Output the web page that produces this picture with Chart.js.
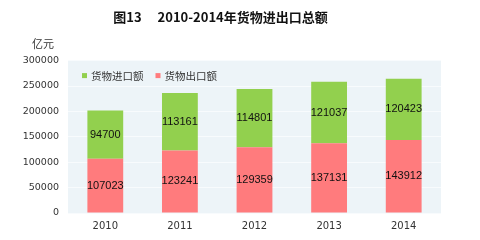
<!DOCTYPE html>
<html><head><meta charset="utf-8">
<script src="https://cdn.jsdelivr.net/npm/chart.js@4/dist/chart.umd.min.js"></script>
<style>html,body{margin:0;padding:0;background:#fff}#wrap{width:480px;height:240px}</style>
</head><body><div id="wrap"><canvas id="c" width="480" height="240"></canvas></div>
<script>
const categories = ['2010','2011','2012','2013','2014'];
const exportValues = [107023,123241,129359,137131,143912];
const importValues = [94700,113161,114801,121037,120423];
const yTicks = [0,50000,100000,150000,200000,250000,300000];
const titleText = '图13\u3000 2010-2014年货物进出口总额';
const unitText = '亿元';

const bgPlugin = {
  id:'bg',
  beforeDraw(chart){
    const {ctx, chartArea:a} = chart;
    ctx.save(); ctx.fillStyle='#edf4f8';
    ctx.fillRect(a.left, a.top, a.right-a.left, a.bottom-a.top);
    ctx.restore();
  },
  afterDraw(chart){
    const {ctx, chartArea:a} = chart;
    ctx.save();
    ctx.fillStyle='#333'; ctx.font='11px "Noto Sans CJK SC"';
    ctx.textAlign='center'; ctx.textBaseline='middle';
    ctx.fillText(unitText, a.left-25, a.top-17);
    ctx.font='11px "Liberation Sans", Arial'; ctx.fillStyle='#111';
    chart.data.datasets.forEach((ds,di)=>{
      chart.getDatasetMeta(di).data.forEach((bar,i)=>{
        const y=(bar.y+bar.base)/2;
        ctx.fillText(String(ds.data[i]), bar.x, y);
      });
    });
    const order=[1,0]; let x=a.left+14; const ly=a.top+15;
    ctx.font='10.5px "Noto Sans CJK SC"'; ctx.textAlign='left';
    order.forEach(di=>{
      const ds=chart.data.datasets[di];
      ctx.fillStyle=ds.backgroundColor; ctx.fillRect(x, ly-2.5, 5, 5);
      ctx.fillStyle='#333'; ctx.fillText(ds.label, x+9, ly+0.5);
      x += 9 + ctx.measureText(ds.label).width + 12;
    });
    ctx.restore();
  }
};

new Chart(document.getElementById('c'), {
  type:'bar',
  data:{labels:categories, datasets:[
    {label:'货物出口额', data:exportValues, backgroundColor:'#ff7b7d', barPercentage:0.48, categoryPercentage:1},
    {label:'货物进口额', data:importValues, backgroundColor:'#92d04e', barPercentage:0.48, categoryPercentage:1}
  ]},
  options:{
    responsive:false, animation:false, devicePixelRatio:1,
    layout:{padding:{left:0,right:39,top:0,bottom:1}},
    plugins:{
      legend:{display:false}, tooltip:{enabled:false},
      title:{display:true, text:titleText, color:'#111', font:{family:'"Noto Sans CJK SC"', size:13, weight:'bold'}, padding:{top:9,bottom:36}}
    },
    scales:{
      x:{stacked:true, grid:{display:false, drawTicks:false}, border:{display:false},
         ticks:{color:'#333', font:{family:'"DejaVu Sans"', size:10}, padding:7}},
      y:{stacked:true, min:0, max:300000, afterFit(s){s.width=68;},
         afterBuildTicks(s){s.ticks=yTicks.map(v=>({value:v}));},
         grid:{color:'#f8fbfd', drawTicks:false}, border:{display:false},
         ticks:{color:'#333', font:{family:'"DejaVu Sans"', size:9.5}, padding:9, callback:(v)=>String(v)}}
    }
  },
  plugins:[bgPlugin]
});
</script></body></html>
